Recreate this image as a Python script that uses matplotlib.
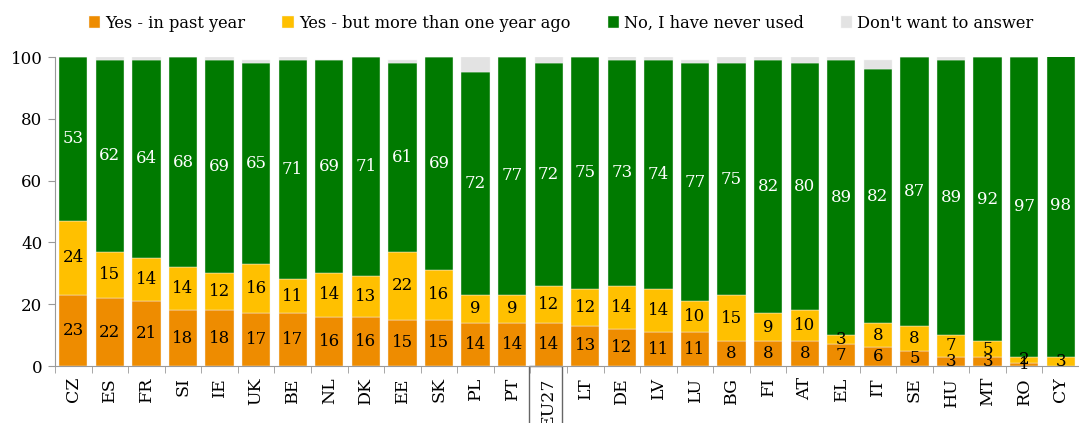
import numpy as np
import matplotlib
matplotlib.use("Agg")
import matplotlib.pyplot as plt
from matplotlib.patches import Rectangle
import matplotlib.transforms as mtransforms

plt.rcParams['font.family'] = ['DejaVu Serif']

paises = ["CZ", "ES", "FR", "SI", "IE", "UK", "BE", "NL", "DK", "EE", "SK", "PL", "PT", "EU27",
          "LT", "DE", "LV", "LU", "BG", "FI", "AT", "EL", "IT", "SE", "HU", "MT", "RO", "CY"]
ultimo_ano = [23, 22, 21, 18, 18, 17, 17, 16, 16, 15, 15, 14, 14, 14,
              13, 12, 11, 11, 8, 8, 8, 7, 6, 5, 3, 3, 1, 0]
mas_de_un_ano = [24, 15, 14, 14, 12, 16, 11, 14, 13, 22, 16, 9, 9, 12,
                 12, 14, 14, 10, 15, 9, 10, 3, 8, 8, 7, 5, 2, 3]
nunca = [53, 62, 64, 68, 69, 65, 71, 69, 71, 61, 69, 72, 77, 72,
         75, 73, 74, 77, 75, 82, 80, 89, 82, 87, 89, 92, 97, 98]
no_responde = [0, 1, 1, 0, 1, 1, 1, 0, 0, 1, 0, 5, 0, 2,
               0, 2, 1, 1, 2, 1, 2, 1, 3, 0, 1, 0, 0, 0]

series = [ultimo_ano, mas_de_un_ano, nunca, no_responde]
nombres = ["Yes - in past year", "Yes - but more than one year ago",
           "No, I have never used", "Don't want to answer"]
colores = ["#EE8C00", "#FFC000", "#007A00", "#E3E3E3"]
color_texto = ["black", "black", "white", None]

fig = plt.figure(figsize=(10.79, 4.23), dpi=100)
ax = fig.add_axes([55/1079, 57/423, 1024/1079, 309/423])

x = np.arange(len(paises))
base = np.zeros(len(paises))
handles = []
for k in range(4):
    vals = np.array(series[k], dtype=float)
    b = ax.bar(x, vals, bottom=base, width=0.77, color=colores[k],
               edgecolor="#f4f4f4", linewidth=0.3, label=nombres[k])
    handles.append(b)
    if color_texto[k] is not None:
        for i in range(len(paises)):
            if vals[i] > 0:
                ax.text(x[i], base[i] + vals[i] / 2, str(int(vals[i])),
                        ha="center", va="center", fontsize=12,
                        color=color_texto[k])
    base = base + vals

ax.set_xlim(-0.5, 27.3)
ax.set_ylim(0, 100)
ax.set_yticks([0, 20, 40, 60, 80, 100])
ax.tick_params(axis="y", length=5, color="#999999", labelsize=12, pad=4)
ax.set_xticks(x)
ax.set_xticklabels(paises, rotation=90, fontsize=12.5)
ax.tick_params(axis="x", which="major", length=0, pad=8)
ax.set_xticks(np.arange(-0.5, 28, 1), minor=True)
ax.tick_params(axis="x", which="minor", length=5, color="#999999")

for s in ["top", "right"]:
    ax.spines[s].set_visible(False)
ax.spines["left"].set_color("#999999")
ax.spines["bottom"].set_color("#999999")

# recuadro del EU27
trans = mtransforms.blended_transform_factory(ax.transData, ax.transAxes)
ax.add_patch(Rectangle((12.47, -0.3), 0.88, 0.3, transform=trans,
                       fill=False, edgecolor="#666666", linewidth=1, clip_on=False))

fig.legend(handles=handles, loc="upper center", bbox_to_anchor=(0.52, 1.0),
           ncol=4, frameon=False, fontsize=11.7, handlelength=0.7,
           handleheight=0.7, handletextpad=0.3, columnspacing=2.3)

plt.savefig("out.png", dpi=100)
